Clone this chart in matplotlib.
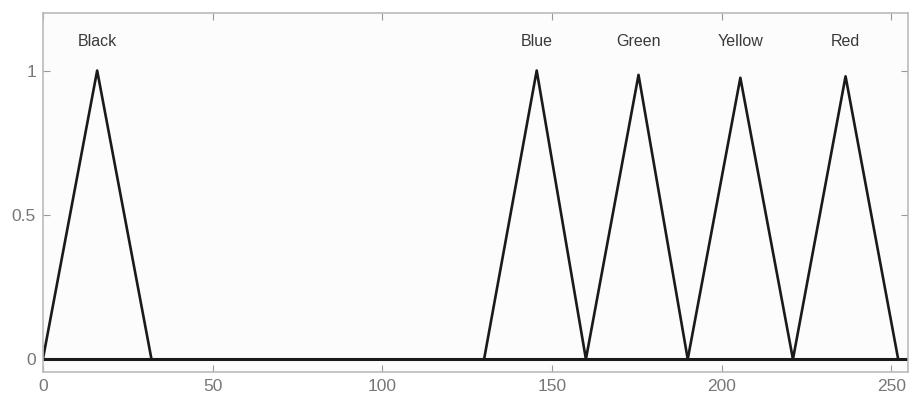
import matplotlib.pyplot as plt

# triangle membership functions: (start, peak, end), peak height
names = ["Black", "Blue", "Green", "Yellow", "Red"]
starts = [0, 130, 160, 190, 221]
peaks = [16, 145.5, 175.5, 205.5, 236.5]
ends = [32, 160, 190, 221, 252]
heights = [1.0, 1.0, 0.985, 0.975, 0.98]
label_y = 1.1

fig = plt.figure(figsize=(9.12, 4.01), dpi=100)
fig.patch.set_facecolor("white")
ax = fig.add_axes([0.047, 0.072, 0.949, 0.896])
ax.set_facecolor("#fcfcfc")

# zero line across the whole range
ax.plot([0, 255], [0, 0], color="#1a1a1a", lw=2.2)

for name, s, p, e, h in zip(names, starts, peaks, ends, heights):
    ax.plot([s, p, e], [0, h, 0], color="#1a1a1a", lw=1.9)
    ax.text(p, label_y, name, ha="center", va="center", fontsize=11.5,
            color="#3a3a3a", family="Liberation Sans")

ax.set_xlim(0, 255)
ax.set_ylim(-0.045, 1.2)
ax.set_xticks([0, 50, 100, 150, 200, 250])
ax.set_yticks([0, 0.5, 1])
ax.set_yticklabels(["0", "0.5", "1"])
ax.tick_params(direction="in", top=True, right=True, length=5, width=0.8,
               colors="#999999", labelcolor="#777777", labelsize=12.5, pad=5)
for lab in ax.get_xticklabels() + ax.get_yticklabels():
    lab.set_family("Liberation Sans")
for sp in ax.spines.values():
    sp.set_color("#bbbbbb")
    sp.set_linewidth(1.2)

fig.savefig("out.png", dpi=100)
